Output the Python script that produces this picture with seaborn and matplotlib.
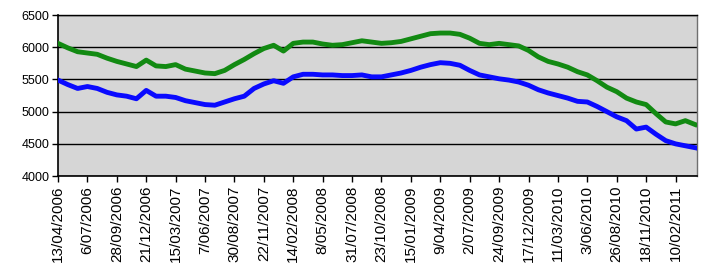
import pandas as pd
import numpy as np
import matplotlib
matplotlib.use('Agg')
import matplotlib.pyplot as plt
import seaborn as sns

# values, one point every 28 days from 13/04/2006
start_date = '2006-04-13'
green_vals = [6060, 5990, 5930, 5910, 5890, 5830, 5780, 5740, 5700, 5800,
              5710, 5700, 5730, 5660, 5630, 5600, 5590, 5640, 5730, 5810,
              5900, 5980, 6030, 5940, 6060, 6080, 6080, 6050, 6030, 6040,
              6070, 6100, 6080, 6060, 6070, 6090, 6130, 6170, 6210, 6220,
              6220, 6200, 6140, 6060, 6040, 6060, 6040, 6020, 5950, 5850,
              5780, 5740, 5690, 5620, 5570, 5480, 5380, 5310, 5210, 5150,
              5110, 4970, 4840, 4810, 4860, 4800]
blue_vals = [5490, 5420, 5360, 5390, 5360, 5300, 5260, 5240, 5200, 5330,
             5240, 5240, 5220, 5170, 5140, 5110, 5100, 5150, 5200, 5240,
             5360, 5430, 5480, 5440, 5540, 5580, 5580, 5570, 5570, 5560,
             5560, 5570, 5540, 5540, 5570, 5600, 5640, 5690, 5730, 5760,
             5750, 5720, 5640, 5570, 5540, 5510, 5490, 5460, 5410, 5340,
             5290, 5250, 5210, 5160, 5150, 5080, 5000, 4920, 4860, 4730,
             4760, 4650, 4550, 4500, 4470, 4440]

dates = pd.date_range(start_date, periods=len(green_vals), freq='28D')
df = pd.DataFrame({'Date': dates, 'green': green_vals, 'blue': blue_vals})

# x tick labels every 12 weeks
tick_dates = pd.date_range(start_date, '2011-02-10', freq='84D')
tick_labels = [f"{d.day}/{d:%m/%Y}" for d in tick_dates]
y_ticks = [4000, 4500, 5000, 5500, 6000, 6500]

plt.rcParams['font.family'] = ['Liberation Sans', 'DejaVu Sans']
fig = plt.figure(figsize=(7.04, 2.68), dpi=100)
ax = fig.add_axes([0.0824, 0.343, 0.908, 0.601])
ax.set_facecolor('#d6d6d6')

sns.lineplot(data=df, x='Date', y='green', color='#128a12', lw=3.5, ax=ax, zorder=3)
sns.lineplot(data=df, x='Date', y='blue', color='#0a0aff', lw=3.5, ax=ax, zorder=4)

ax.set_ylim(4000, 6500)
ax.set_xlim(pd.Timestamp(start_date), pd.Timestamp('2011-04-13'))
ax.set_yticks(y_ticks)
ax.set_yticklabels([str(v) for v in y_ticks], fontsize=9)
ax.set_xticks(tick_dates)
ax.set_xticklabels(tick_labels, rotation=90, fontsize=11)
ax.grid(axis='y', color='black', lw=1.0, zorder=1)
ax.set_axisbelow(True)
ax.tick_params(axis='both', direction='out', length=4, width=1, color='black', pad=2)
ax.tick_params(axis='x', pad=3)
ax.set_xlabel('')
ax.set_ylabel('')

for s in ['left', 'bottom']:
    ax.spines[s].set_color('black')
    ax.spines[s].set_linewidth(1.2)
ax.spines['top'].set_color('black')
ax.spines['top'].set_linewidth(1.0)
ax.spines['right'].set_color('#707070')
ax.spines['right'].set_linewidth(1.0)

fig.savefig('out.png', dpi=100)
